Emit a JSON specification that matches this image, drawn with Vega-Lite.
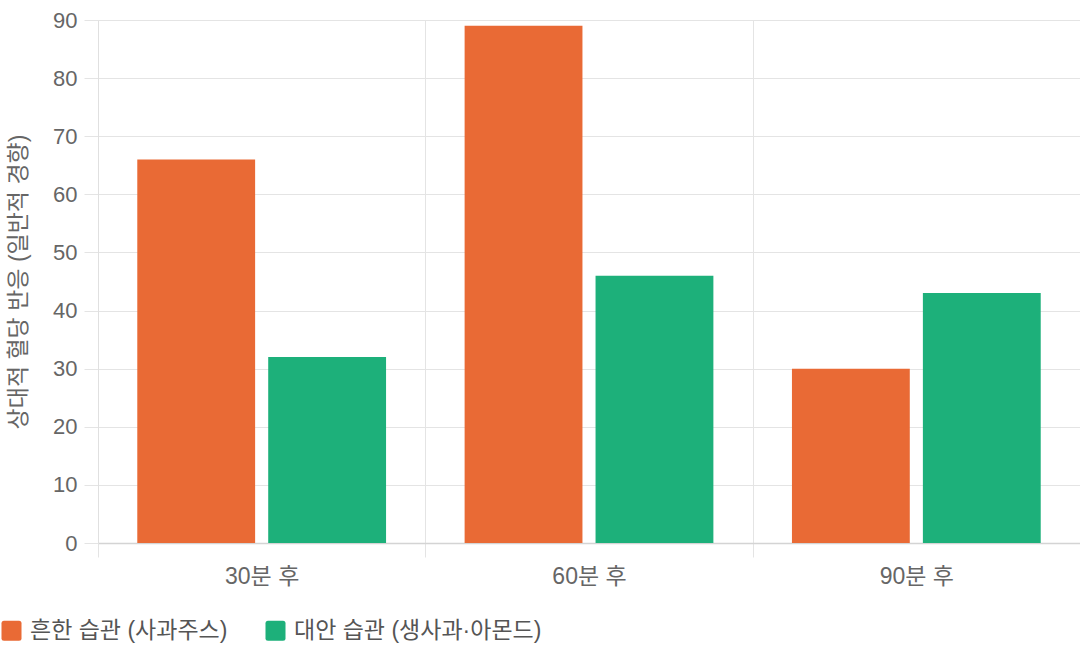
{
  "$schema": "https://vega.github.io/schema/vega-lite/v6.json",
  "width": 982,
  "height": 523,
  "autosize": {"type": "none"},
  "padding": {"left": 98, "top": 20, "right": 0, "bottom": 107},
  "background": "white",
  "config": {
    "font": "Liberation Sans, Noto Sans CJK KR, sans-serif",
    "view": {"stroke": null}
  },
  "data": {
    "values": [
      {"time": "30분 후", "group": "흔한 습관 (사과주스)", "value": 66},
      {"time": "30분 후", "group": "대안 습관 (생사과·아몬드)", "value": 32},
      {"time": "60분 후", "group": "흔한 습관 (사과주스)", "value": 89},
      {"time": "60분 후", "group": "대안 습관 (생사과·아몬드)", "value": 46},
      {"time": "90분 후", "group": "흔한 습관 (사과주스)", "value": 30},
      {"time": "90분 후", "group": "대안 습관 (생사과·아몬드)", "value": 43}
    ]
  },
  "mark": {"type": "bar"},
  "encoding": {
    "x": {
      "field": "time",
      "type": "nominal",
      "sort": null,
      "scale": {"paddingInner": 0, "paddingOuter": 0},
      "axis": {
        "title": null,
        "labelAngle": 0,
        "labelFontSize": 23,
        "labelColor": "#666",
        "labelPadding": 8,
        "grid": true,
        "gridColor": "#e4e4e4",
        "tickBand": "extent",
        "tickColor": "#e4e4e4",
        "tickSize": 14,
        "domainColor": "#d4d4d4",
        "domainWidth": 1.5
      }
    },
    "xOffset": {
      "field": "group",
      "type": "nominal",
      "sort": null,
      "scale": {"paddingInner": 0.1, "paddingOuter": 0.3}
    },
    "y": {
      "field": "value",
      "type": "quantitative",
      "scale": {"domain": [0, 90], "nice": false},
      "axis": {
        "title": "상대적 혈당 반응 (일반적 경향)",
        "titleFontSize": 23,
        "titleFontWeight": "normal",
        "titleColor": "#666",
        "titlePadding": 22,
        "values": [0, 10, 20, 30, 40, 50, 60, 70, 80, 90],
        "labelFontSize": 22,
        "labelColor": "#666",
        "labelPadding": 7,
        "gridColor": "#e4e4e4",
        "tickColor": "#e4e4e4",
        "tickSize": 14,
        "domainColor": "#e0e0e0"
      }
    },
    "color": {
      "field": "group",
      "type": "nominal",
      "sort": null,
      "scale": {
        "domain": ["흔한 습관 (사과주스)", "대안 습관 (생사과·아몬드)"],
        "range": ["#E96A35", "#1DB07A"]
      },
      "legend": {
        "title": null,
        "orient": "none",
        "legendX": -98,
        "legendY": 599,
        "direction": "horizontal",
        "columns": 2,
        "columnPadding": 36,
        "symbolType": "M-0.75,-1H0.75Q1,-1 1,-0.75V0.75Q1,1 0.75,1H-0.75Q-1,1 -1,0.75V-0.75Q-1,-1 -0.75,-1Z",
        "symbolSize": 400,
        "symbolStrokeWidth": 0,
        "labelFontSize": 23,
        "labelColor": "#555",
        "labelOffset": 7,
        "labelLimit": 400
      }
    }
  }
}
